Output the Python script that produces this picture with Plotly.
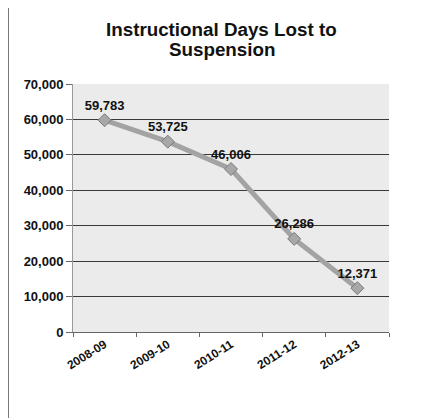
import plotly.graph_objects as go

categories = ["2008-09", "2009-10", "2010-11", "2011-12", "2012-13"]
days_lost = [59783, 53725, 46006, 26286, 12371]
label_text = ["59,783", "53,725", "46,006", "26,286", "12,371"]
y_ticks = [0, 10000, 20000, 30000, 40000, 50000, 60000, 70000]
y_tick_labels = ["0", "10,000", "20,000", "30,000", "40,000", "50,000", "60,000", "70,000"]
title_lines = ["Instructional Days Lost to", "Suspension"]

FONT = "Liberation Sans, Arial, sans-serif"
# the page body has an 8px margin, so the figure is drawn 8px right/down
OFF = 8
W, H = 423 - OFF, 418 - OFF
L, R, T, B = 73 - OFF, 34, 84 - OFF, 86
PW, PH = W - L - R, H - T - B

def px_x(x):
    return (x - OFF - L) / PW

def px_y(y):
    return (H - B - (y - OFF)) / PH

fig = go.Figure()
fig.add_trace(go.Scatter(
    x=categories, y=days_lost,
    mode="lines+markers+text",
    line=dict(color="#a3a3a3", width=5),
    marker=dict(symbol="diamond", size=10, color="#a8a8a8", line=dict(color="#7a7a7a", width=1)),
    text=label_text,
    textposition="top center",
    textfont=dict(family=FONT, size=13, color="#111111", weight="bold"),
    cliponaxis=False,
    hoverinfo="x+y",
))

annotations = []
for i, line in enumerate(title_lines):
    annotations.append(dict(
        text="<b>" + line + "</b>", xref="paper", yref="paper",
        x=px_x(221.5), y=px_y(29 + 21 * i), xanchor="center", yanchor="middle",
        showarrow=False, font=dict(family=FONT, size=18.8, color="#111111"),
    ))

fig.update_layout(
    width=W, height=H,
    margin=dict(l=L, r=R, t=T, b=B),
    paper_bgcolor="white",
    plot_bgcolor="#ebebeb",
    showlegend=False,
    annotations=annotations,
    xaxis=dict(
        type="category",
        range=[-0.5, 4.5],
        tickson="boundaries",
        ticks="outside", ticklen=4, tickcolor="#666666",
        showgrid=False,
        showline=True, linecolor="#666666", linewidth=1,
        tickangle=-32,
        automargin=False,
        tickfont=dict(family=FONT, size=12, color="#111111", weight="bold"),
    ),
    yaxis=dict(
        range=[0, 70000],
        tickvals=y_ticks, ticktext=y_tick_labels,
        ticks="outside", ticklen=6, tickcolor="#666666",
        showgrid=True, gridcolor="#3a3a3a", gridwidth=1,
        showline=True, linecolor="#999999", linewidth=1,
        zeroline=False,
        automargin=False,
        tickfont=dict(family=FONT, size=13, color="#111111", weight="bold"),
    ),
    shapes=[
        dict(type="line", xref="paper", yref="paper", x0=px_x(8.5), x1=px_x(8.5), y0=px_y(418), y1=px_y(8),
             line=dict(color="#777777", width=1)),
    ],
)

fig.write_html("out.html")
